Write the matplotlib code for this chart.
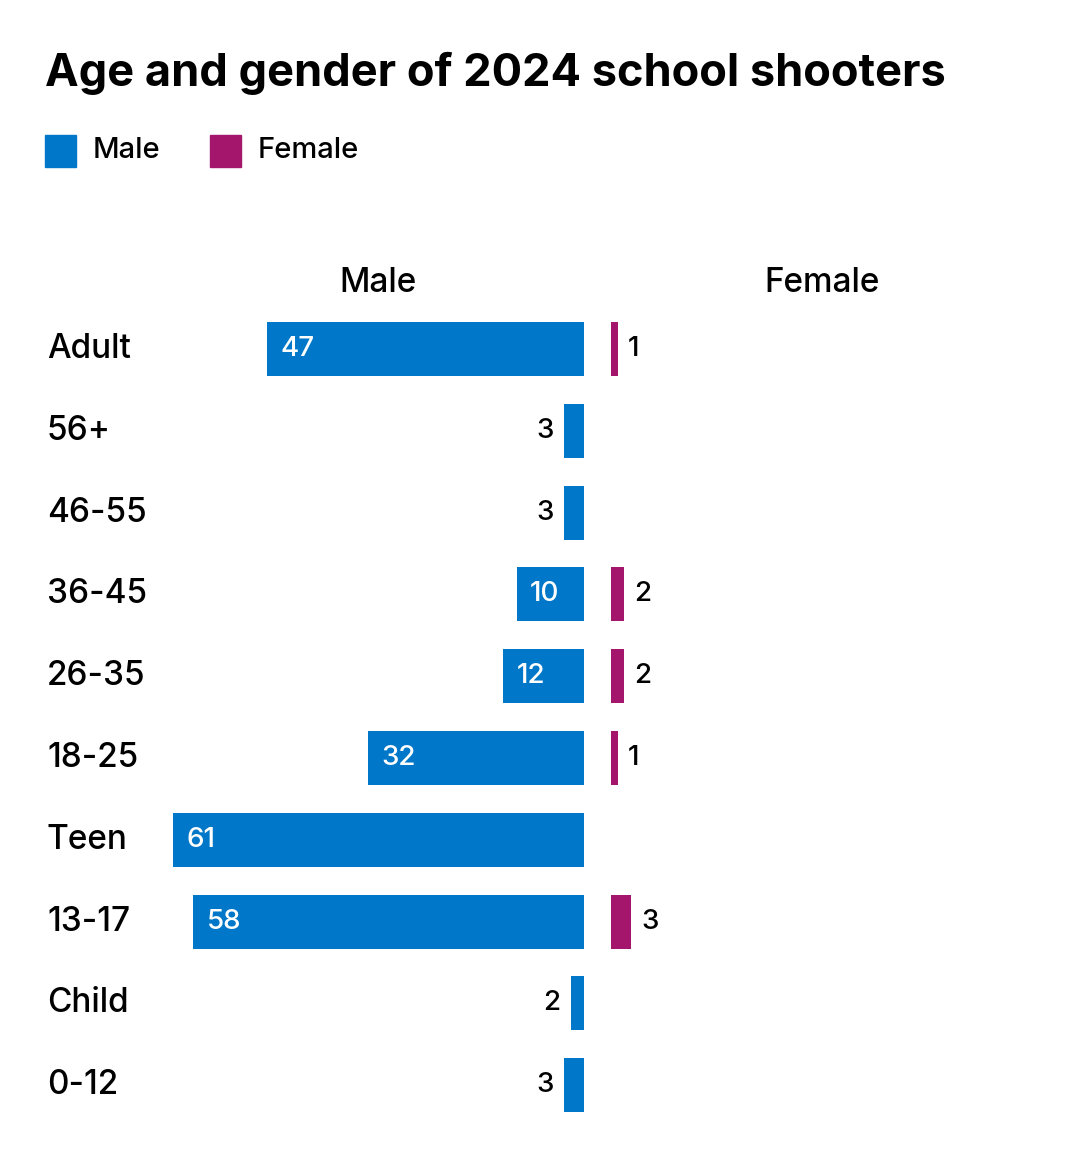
import matplotlib.pyplot as plt
from matplotlib.patches import Rectangle

plt.rcParams['font.family'] = ['Inter', 'DejaVu Sans']
plt.rcParams['font.weight'] = 'medium'

MALE = "#0077c8"
FEMALE = "#a3166c"

groups = ["Adult", "56+", "46-55", "36-45", "26-35", "18-25", "Teen", "13-17", "Child", "0-12"]
male = [47, 3, 3, 10, 12, 32, 61, 58, 2, 3]
female = [1, 0, 0, 2, 2, 1, 0, 3, 0, 0]

W, H = 1080, 1167
fig = plt.figure(figsize=(W / 100, H / 100), dpi=100)
ax = fig.add_axes([0, 0, 1, 1])
ax.axis("off")

unit = 6.74          # px per shooter
zero = 584           # px where the male bars end
gap = 27 / unit      # gap between male and female bars
row0, step = 349, 81.8
ax.set_xlim(-zero / unit, (W - zero) / unit)
ax.set_ylim((H - row0) / step, -row0 / step)

y = list(range(len(groups)))
ax.barh(y, [-m for m in male], height=0.66, color=MALE)
ax.barh(y, female, left=gap, height=0.66, color=FEMALE)

for i, (g, m, f) in enumerate(zip(groups, male, female)):
    fig.text(47 / W, 1 - (row0 + step * i) / H, g, fontsize=24, va="center", ha="left")
    if m >= 10:
        ax.text(-m + 2, i, str(m), color="white", fontsize=20, va="center", ha="left")
    else:
        ax.text(-m - 1.5, i, str(m), color="black", fontsize=20, va="center", ha="right")
    if f:
        ax.text(gap + f + 1.5, i, str(f), color="black", fontsize=20, va="center", ha="left")

fig.text(45 / W, 1 - 73 / H, "Age and gender of 2024 school shooters",
         fontsize=32.5, fontweight="bold", va="center", ha="left")
# legend
for x0, lab, c in [(45, "Male", MALE), (210, "Female", FEMALE)]:
    fig.patches.append(Rectangle((x0 / W, 1 - 167 / H), 31 / W, 32 / H,
                                 transform=fig.transFigure, color=c))
    fig.text((x0 + 48) / W, 1 - 151 / H, lab, fontsize=21, va="center", ha="left")

fig.text(378 / W, 1 - 283 / H, "Male", fontsize=24, va="center", ha="center")
fig.text(822 / W, 1 - 283 / H, "Female", fontsize=24, va="center", ha="center")

fig.savefig("out.png", dpi=100, facecolor="white")
